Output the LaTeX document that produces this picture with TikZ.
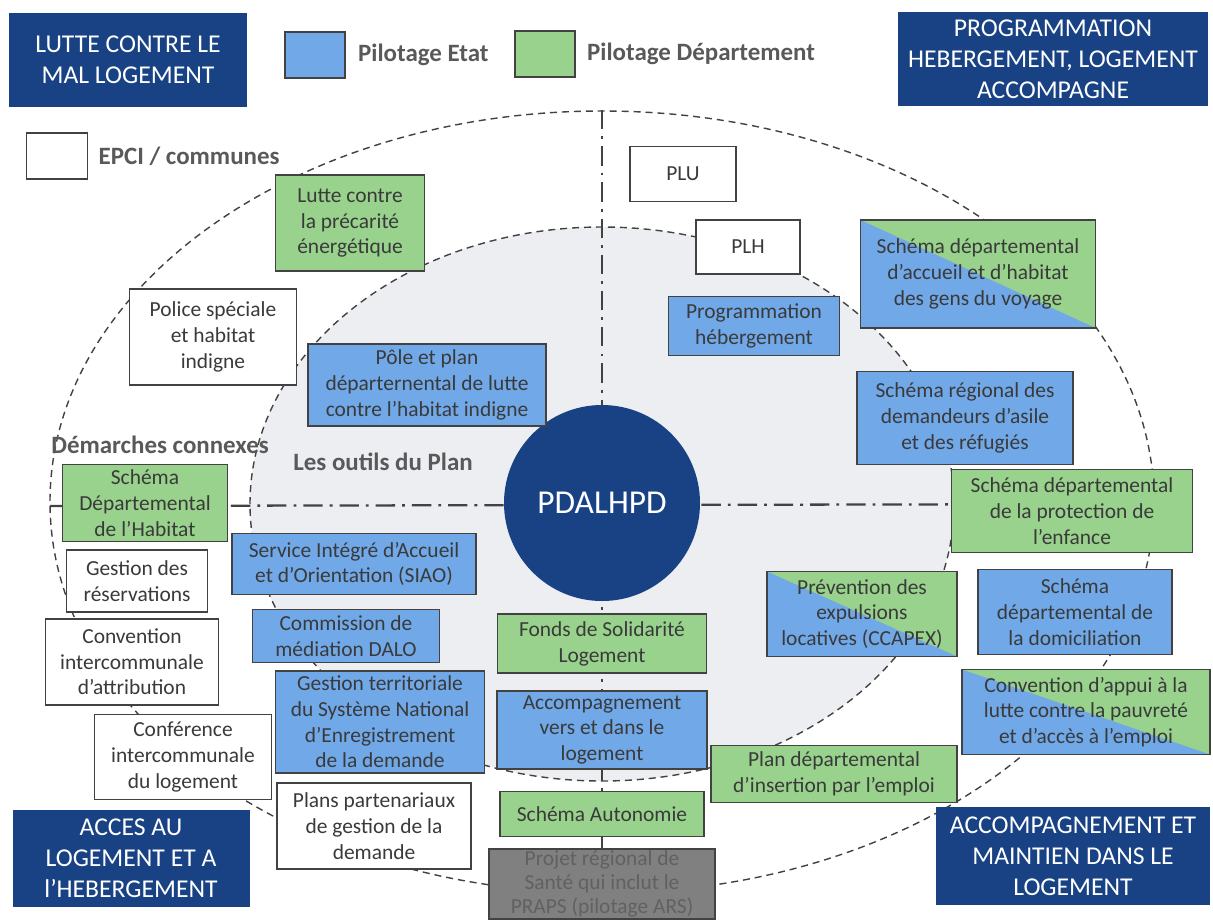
\documentclass[tikz,border=0pt]{standalone}
\usepackage{fontspec}
\setmainfont{Carlito}
\usetikzlibrary{positioning}
\definecolor{navy}{RGB}{24,66,132}
\definecolor{etat}{RGB}{112,168,232}
\definecolor{dept}{RGB}{152,210,140}
\definecolor{planbg}{RGB}{237,238,242}
\definecolor{ink}{RGB}{58,58,58}
\definecolor{rim}{RGB}{66,66,66}
\definecolor{ars}{RGB}{128,128,128}
\definecolor{lblc}{RGB}{89,89,89}

\begin{document}
\begin{tikzpicture}[
    x=0.02cm, y=-0.02cm,
    font=\fontsize{12.2}{14.6}\selectfont,
    box/.style={rectangle, draw=rim, line width=0.9pt, text=ink, align=center, inner sep=1pt},
    wh/.style 2 args={minimum width=#1*0.02cm, minimum height=#2*0.02cm},
    banner/.style={rectangle, fill=navy, text=white, align=center, inner sep=1pt, font=\fontsize{14.6}{17.6}\selectfont},
    halves/.style={fill=dept, path picture={\fill[etat] (path picture bounding box.north west) -- (path picture bounding box.south east) -- (path picture bounding box.south west) -- cycle;}},
    lbl/.style={text=lblc, font=\fontsize{14.2}{17}\selectfont\bfseries, inner sep=0pt, anchor=west},
    ring/.style={draw=rim, line width=0.8pt, dash pattern=on 4pt off 2.8pt},
    axisline/.style={draw=rim, line width=1.3pt, dash pattern=on 11pt off 4pt on 1.6pt off 4pt}
]
    \useasboundingbox (0,0) rectangle (1213,920);
    \clip (0,0) rectangle (1213,920);

    % the two rings of the plan
    \draw[ring] (602,502) ellipse [x radius=552, y radius=391];
    \draw[ring, fill=planbg] (602,504) ellipse [x radius=352, y radius=277];

    % axes
    \coordinate (ntop) at (602,110);
    \coordinate (nbot) at (602,893);
    \coordinate (wend) at (50,506);
    \coordinate (eend) at (1154,504);
    \draw[axisline] (ntop) -- (nbot);
    \draw[axisline] (wend) -- (eend);

    % legend
    \node[box, fill=etat, wh={60}{46}] (keyetat) at (315,55) {};
    \node[lbl, right=0.24cm of keyetat] (txtetat) {Pilotage Etat};
    \node[box, fill=dept, wh={60}{46}] (keydept) at (545,54) {};
    \node[lbl, right=0.22cm of keydept] (txtdept) {Pilotage Département};
    \node[box, fill=white, wh={61}{46}] (keyepci) at (57,156) {};
    \node[lbl, right=0.2cm of keyepci] (txtepci) {EPCI / communes};

    % the four axes of the plan
    \node[banner, wh={238}{94}] (mallog) at (128,60) {LUTTE CONTRE LE\\MAL LOGEMENT};
    \node[banner, wh={310}{94}] (progr) at (1053,59) {PROGRAMMATION\\HEBERGEMENT, LOGEMENT\\ACCOMPAGNE};
    \node[banner, wh={237}{97}] (acces) at (131,858) {ACCES AU\\LOGEMENT ET A\\l’HEBERGEMENT};
    \node[banner, wh={274}{98}] (maintien) at (1073,856) {ACCOMPAGNEMENT ET\\MAINTIEN DANS LE\\LOGEMENT};

    % centre
    \node[circle, fill=navy, text=white, minimum size=196*0.02cm, inner sep=0pt, font=\fontsize{19}{22}\selectfont] (hub) at (602,503) {PDALHPD};
    \node[lbl] (connexes) at (51,445) {Démarches connexes};
    \node[lbl] (outils) at (293,462) {Les outils du Plan};

    % top left
    \node[box, fill=dept, wh={149}{96}] (precarite) at (350,223) {Lutte contre\\la précarité\\énergétique};
    \node[box, fill=white, wh={167}{96}] (police) at (213,337) {Police spéciale\\et habitat\\indigne};
    \node[box, fill=etat, wh={238}{82}] (pole) at (427,385) {Pôle et plan\\départernental de lutte\\contre l’habitat indigne};

    % top right
    \node[box, fill=white, wh={106}{55}] (plu) at (683,174) {PLU};
    \node[box, fill=white, wh={104}{54}] (plh) at (748,247) {PLH};
    \node[box, fill=etat, wh={171}{59}] (progheb) at (754,326) {Programmation\\hébergement};
    \node[box, halves, wh={235}{108}] (voyage) at (978,274) {Schéma départemental\\d’accueil et d’habitat\\des gens du voyage};
    \node[box, fill=etat, wh={216}{93}] (asile) at (965,418) {Schéma régional des\\demandeurs d’asile\\et des réfugiés};
    \node[box, fill=dept, wh={241}{83}] (enfance) at (1072,511) {Schéma départemental\\de la protection de\\l’enfance};

    % left
    \node[box, fill=dept, wh={165}{77}] (sdh) at (145,503) {Schéma\\Départemental\\de l’Habitat};
    \node[box, fill=white, wh={141}{62}] (reserv) at (137,581) {Gestion des\\réservations};
    \node[box, fill=white, wh={173}{86}] (cia) at (132,662) {Convention\\intercommunale\\d’attribution};
    \node[box, fill=white, wh={177}{85}] (cil) at (183,757) {Conférence\\intercommunale\\du logement};
    \node[box, fill=etat, wh={244}{61}] (siao) at (354,564) {Service Intégré d’Accueil\\et d’Orientation (SIAO)};
    \node[box, fill=etat, wh={187}{53}] (dalo) at (346,636) {Commission de\\médiation DALO};
    \node[box, fill=etat, wh={209}{102}] (sne) at (380,722) {Gestion territoriale\\du Système National\\d’Enregistrement\\de la demande};
    \node[box, fill=white, wh={194}{86}] (ppgd) at (374,826) {Plans partenariaux\\de gestion de la\\demande};

    % below the centre
    \node[box, fill=dept, wh={209}{59}, below=0.24cm of hub] (fsl) {Fonds de Solidarité\\Logement};
    \node[box, fill=etat, wh={210}{78}, below=0.32cm of fsl] (avdl) {Accompagnement\\vers et dans le\\logement};
    \node[box, fill=dept, wh={204}{45}, below=0.42cm of avdl] (autonomie) {Schéma Autonomie};
    \node[box, fill=ars, text=black!62, wh={226}{68}, below=0.22cm of autonomie, font=\fontsize{12.2}{13.6}\selectfont] (prs) {Projet régional de\\Santé qui inclut le\\PRAPS (pilotage ARS)};

    % right
    \node[box, halves, wh={190}{85}] (ccapex) at (862,614) {Prévention des\\expulsions\\locatives (CCAPEX)};
    \node[box, fill=etat, wh={194}{85}] (domicil) at (1075,612) {Schéma\\départemental de\\la domiciliation};
    \node[box, halves, wh={248}{85}] (pauvrete) at (1086,712) {Convention d’appui à la\\lutte contre la pauvreté\\et d’accès à l’emploi};
    \node[box, fill=dept, wh={246}{57}] (pdie) at (834,774) {Plan départemental\\d’insertion par l’emploi};
\end{tikzpicture}
\end{document}
